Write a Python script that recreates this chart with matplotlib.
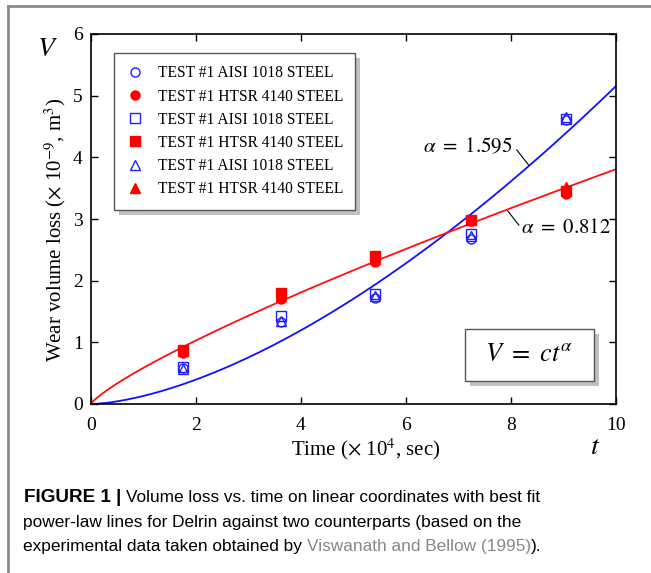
import numpy as np
import matplotlib.pyplot as plt
from matplotlib.patches import Rectangle
from matplotlib.lines import Line2D

plt.rcParams['mathtext.fontset'] = 'stix'
plt.rcParams['font.family'] = 'Liberation Serif'

# Data (time in 1e4 s, volume in 1e-9 m^3)
t_pts = [1.76, 3.62, 5.40, 7.24, 9.05]
aisi_circle = [0.58, 1.33, 1.72, 2.68, 4.60]
htsr_circle = [0.82, 1.70, 2.31, 2.97, 3.40]
aisi_square = [0.60, 1.43, 1.78, 2.76, 4.62]
htsr_square = [0.88, 1.80, 2.40, 2.98, 3.45]
aisi_tri = [0.57, 1.34, 1.75, 2.72, 4.65]
htsr_tri = [0.86, 1.75, 2.35, 2.98, 3.52]

# best fit power-law parameters V = c t^alpha
c_aisi, alpha_aisi = 0.131, 1.595
c_htsr, alpha_htsr = 0.587, 0.812

W, H = 651, 573
fig = plt.figure(figsize=(W / 100, H / 100), dpi=100)

def fx(px):
    return px / W

def fy(py):
    return 1 - py / H

ax = fig.add_axes([fx(91), fy(404), (616 - 91) / W, (404 - 34) / H])

tt = np.linspace(0, 10, 300)
ax.plot(tt, c_aisi * tt ** alpha_aisi, color='#1010ff', lw=1.3, zorder=2)
ax.plot(tt, c_htsr * tt ** alpha_htsr, color='#ff1010', lw=1.3, zorder=2)

blue = '#2020ff'
red = '#ff0000'
ms = 6.5
ax.plot(t_pts, aisi_circle, 'o', mfc='none', mec=blue, mew=1.0, ms=ms, label='TEST #1 AISI 1018 STEEL')
ax.plot(t_pts, htsr_circle, 'o', color=red, ms=ms, label='TEST #1 HTSR 4140 STEEL')
ax.plot(t_pts, aisi_square, 's', mfc='none', mec=blue, mew=1.0, ms=ms, label='TEST #1 AISI 1018 STEEL')
ax.plot(t_pts, htsr_square, 's', color=red, ms=ms, label='TEST #1 HTSR 4140 STEEL')
ax.plot(t_pts, aisi_tri, '^', mfc='none', mec=blue, mew=1.0, ms=ms + 1, label='TEST #1 AISI 1018 STEEL')
ax.plot(t_pts, htsr_tri, '^', color=red, ms=ms + 1, label='TEST #1 HTSR 4140 STEEL')

ax.set_xlim(0, 10)
ax.set_ylim(0, 6)
ax.set_xticks([0, 2, 4, 6, 8, 10])
ax.set_yticks([0, 1, 2, 3, 4, 5, 6])
ax.tick_params(direction='in', length=5, width=1, top=True, right=True, labelsize=14)
ax.tick_params(axis='x', pad=9)
ax.tick_params(axis='y', pad=6)
for s in ax.spines.values():
    s.set_linewidth(1.2)

ax.set_xlabel(r'Time ($\times$ 10$^4$, sec)', fontsize=15)
ax.xaxis.set_label_coords((366 - 91) / 525, -(449 - 404) / 370, transform=ax.transAxes)
ax.xaxis.label.set_va('center')
ax.set_ylabel(r'Wear volume loss ($\times$ 10$^{-9}$, m$^3$)', fontsize=15)
ax.yaxis.set_label_coords(-(91 - 55) / 525, (404 - 230) / 370, transform=ax.transAxes)
ax.yaxis.label.set_va('center')
fig.text(fx(48), fy(50), r'$V$', fontsize=20, ha='center', va='center')
fig.text(fx(595), fy(447), r'$t$', fontsize=20, ha='center', va='center')

# annotations for exponents
ax.text(8.04, 4.17, r'$\alpha\ =\ 1.595$', fontsize=15, ha='right', va='center')
ax.plot([8.11, 8.34], [4.12, 3.87], color='k', lw=0.8)
ax.text(8.20, 2.84, r'$\alpha\ =\ 0.812$', fontsize=15, ha='left', va='center')
ax.plot([7.94, 8.15], [3.13, 2.90], color='k', lw=0.8)

leg = ax.legend(loc='upper left', bbox_to_anchor=(fx(114), fy(53)),
                bbox_transform=fig.transFigure, borderaxespad=0,
                fontsize=11.2, frameon=True, fancybox=False, edgecolor='#555555',
                framealpha=1, labelspacing=0.46, handletextpad=0.9,
                borderpad=0.8, handlelength=1.1)
leg.get_frame().set_linewidth(1.0)
leg.set_zorder(5)

fig.canvas.draw()
bb = leg.get_window_extent()
shadow = Rectangle((bb.x0 + 5, bb.y0 - 5), bb.width, bb.height,
                   transform=None, facecolor='#c0c0c0', edgecolor='none', zorder=4)
ax.add_artist(shadow)

# V = ct^alpha box
x0, x1, y0, y1 = 465, 594, 329, 381
ax.add_artist(Rectangle((fx(x0 + 5), fy(y1 + 5)), fx(x1 - x0), (y1 - y0) / H,
                        transform=fig.transFigure, facecolor='#c0c0c0',
                        edgecolor='none', zorder=4))
ax.add_artist(Rectangle((fx(x0), fy(y1)), fx(x1 - x0), (y1 - y0) / H,
                        transform=fig.transFigure, facecolor='white',
                        edgecolor='#555555', lw=1.0, zorder=5))
fig.text(fx((x0 + x1) / 2), fy((y0 + y1) / 2), r'$V\ =\ ct^{\alpha}$', fontsize=19,
         ha='center', va='center', zorder=6)

# outer frame (top and left edges of the panel)
fig.add_artist(Line2D([fx(8), 1], [fy(6), fy(6)], transform=fig.transFigure,
                      color='#8a8a8a', lw=2))
fig.add_artist(Line2D([fx(8), fx(8)], [fy(6), 0], transform=fig.transFigure,
                      color='#8a8a8a', lw=2))

# caption
cap = dict(fontsize=12.4, family='Liberation Sans', ha='left', va='center')
b = fig.text(fx(24), fy(497), 'FIGURE 1 |', fontweight='bold',
             **dict(cap, fontsize=13.6))
fig.canvas.draw()
eb = b.get_window_extent()
fig.text((eb.x1 + 5) / W, fy(497), 'Volume loss vs. time on linear coordinates with best fit', **cap)
fig.text(fx(23), fy(522), 'power-law lines for Delrin against two counterparts (based on the', **cap)
t1 = fig.text(fx(23), fy(547), 'experimental data taken obtained by ', **cap)
fig.canvas.draw()
e1 = t1.get_window_extent()
t2 = fig.text(e1.x1 / W, fy(547), 'Viswanath and Bellow (1995)', color='#888888', **cap)
fig.canvas.draw()
e2 = t2.get_window_extent()
fig.text(e2.x1 / W, fy(547), ').', **cap)

fig.savefig('out.png', dpi=100)
